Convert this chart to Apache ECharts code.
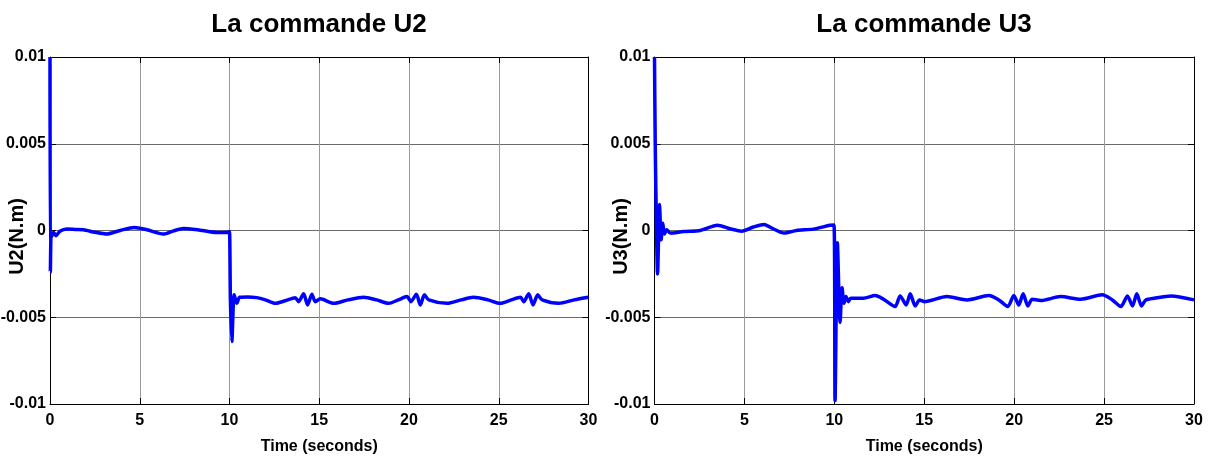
<!DOCTYPE html>
<html>
<head>
<meta charset="utf-8">
<title>La commande U2 / U3</title>
<script src="https://cdn.jsdelivr.net/npm/echarts@6/dist/echarts.min.js"></script>
<style>
  html, body { margin: 0; padding: 0; background: #ffffff; }
  #chart { width: 1212px; height: 461px; }
</style>
</head>
<body>
<div id="chart"></div>
<script>
// Control torques U2 and U3 (N.m) over 30 s of simulation
const xTicks = [0, 5, 10, 15, 20, 25, 30];
const yTicks = [-0.01, -0.005, 0, 0.005, 0.01];
const yTickLabels = ['-0.01', '-0.005', '0', '0.005', '0.01'];

const u2Time = [0, 0.02, 0.06, 0.09, 0.2, 0.33, 0.55, 0.93, 1.4, 1.86, 2.5, 3.16, 3.9, 4.7, 5.4, 6.32, 6.88, 7.43, 8.36, 9.29, 9.94,
  10.0, 10.05, 10.13, 10.26, 10.41, 10.56, 11.0, 11.52, 12.0, 12.55, 13.1, 13.66, 13.85, 14.13, 14.35, 14.59, 14.78, 15.06,
  15.8, 16.6, 17.47, 18.2, 18.87, 19.4, 19.89, 20.11, 20.41, 20.63, 20.86, 21.1, 22.12, 22.9, 23.6, 24.4, 25.09, 25.7,
  26.21, 26.39, 26.67, 26.91, 27.17, 27.42, 28.35, 29.2, 30.0];
const u2Value = [0.01, -0.0024, -0.0002, -0.00035, -0.0001, -0.0003, -0.00005, 0.00008, 0.00006, 0.00004, -0.0001, -0.0002, 0.0, 0.00018, 0.00004, -0.0002, -0.00002, 0.00012, 0.00002, -0.00012, -0.0001,
  -0.00006, -0.004, -0.0064, -0.0037, -0.0042, -0.00385, -0.00383, -0.00387, -0.004, -0.0042, -0.00405, -0.00387, -0.0041, -0.00365, -0.00429, -0.00367, -0.0041, -0.00394,
  -0.0042, -0.004, -0.00385, -0.004, -0.0042, -0.004, -0.00381, -0.0041, -0.00367, -0.00429, -0.00371, -0.004, -0.0042, -0.004, -0.00385, -0.004, -0.0042, -0.004,
  -0.00385, -0.0041, -0.00365, -0.00429, -0.00371, -0.004, -0.0042, -0.004, -0.00385];

const u3Time = [0, 0.04, 0.1, 0.17, 0.28, 0.37, 0.46, 0.55, 0.68, 0.87, 1.61, 2.54, 3.5, 4.2, 4.85, 5.5, 6.09, 6.6, 7.2, 7.9, 8.83, 9.76, 9.98,
  10.04, 10.17, 10.32, 10.43, 10.54, 10.65, 10.78, 10.91, 11.62, 12.27, 12.73, 13.38, 13.66, 14.0, 14.22, 14.5, 14.74, 15.0,
  16.26, 17.38, 18.59, 19.15, 19.65, 19.98, 20.26, 20.5, 20.76, 21.0, 21.47, 22.58, 23.7, 24.9, 25.46, 25.93, 26.3, 26.58,
  26.82, 27.08, 27.32, 27.79, 28.72, 30.0];
const u3Value = [0.01, 0.005, 0.0008, -0.0025, 0.0015, -0.00054, 0.00042, -0.0002, 0.00005, -0.00015, -0.00006, 0.0, 0.0003, 0.0001, -0.00004, 0.0002, 0.00035, 0.0001, -0.00015, 0.0, 0.00008, 0.0003, 0.00032,
  -0.0098, -0.0007, -0.0053, -0.0033, -0.0042, -0.0038, -0.0041, -0.0039, -0.0039, -0.00375, -0.00396, -0.00438, -0.00377, -0.00429, -0.00365, -0.00435, -0.004, -0.0041,
  -0.00381, -0.004, -0.00375, -0.004, -0.00438, -0.00375, -0.00429, -0.00365, -0.00435, -0.00396, -0.00404, -0.00381, -0.00396, -0.00371, -0.004, -0.00438, -0.00377, -0.00435,
  -0.00365, -0.00435, -0.004, -0.0039, -0.00377, -0.004];

const panels = [
  { title: 'La commande U2', yName: 'U2(N.m)', time: u2Time, value: u2Value, left: 50, width: 538.5, center: 319 },
  { title: 'La commande U3', yName: 'U3(N.m)', time: u3Time, value: u3Value, left: 654.5, width: 539.5, center: 924 }
];

const sans = "'Liberation Sans', Arial, sans-serif";
const plotTop = 57;
const plotHeight = 347;

const tickStyle = { show: true, inside: true, length: 6, lineStyle: { color: '#000', width: 1 } };
const lineStyle = { show: true, onZero: false, lineStyle: { color: '#000', width: 1 } };

const option = {
  backgroundColor: '#ffffff',
  animation: false,
  title: [],
  grid: [],
  xAxis: [],
  yAxis: [],
  series: []
};

panels.forEach(function (p, i) {
  option.title.push({
    text: p.title,
    left: p.center,
    top: 12,
    textAlign: 'center',
    padding: 0,
    textStyle: { fontFamily: sans, fontWeight: 'bold', fontSize: 26, color: '#000' }
  });
  option.grid.push({
    left: p.left, top: plotTop, width: p.width, height: plotHeight,
    containLabel: false, outerBoundsMode: 'none'
  });

  // bottom axis with labels and vertical grid lines
  option.xAxis.push({
    type: 'value', gridIndex: i, min: xTicks[0], max: xTicks[xTicks.length - 1], interval: 5,
    position: 'bottom',
    axisLine: lineStyle, axisTick: tickStyle,
    splitLine: { show: true, lineStyle: { color: '#9a9a9a', width: 1 } },
    axisLabel: { margin: 9, color: '#000', fontFamily: sans, fontWeight: 'bold', fontSize: 16 },
    name: 'Time (seconds)', nameLocation: 'middle', nameGap: 35, nameMoveOverlap: false,
    nameTextStyle: { color: '#000', fontFamily: sans, fontWeight: 'bold', fontSize: 16 }
  });
  // top box edge with inward ticks
  option.xAxis.push({
    type: 'value', gridIndex: i, min: xTicks[0], max: xTicks[xTicks.length - 1], interval: 5,
    position: 'top',
    axisLine: lineStyle, axisTick: tickStyle,
    splitLine: { show: false }, axisLabel: { show: false }
  });
  // left axis with labels and horizontal grid lines
  option.yAxis.push({
    type: 'value', gridIndex: i, min: yTicks[0], max: yTicks[yTicks.length - 1], interval: 0.005,
    position: 'left',
    axisLine: lineStyle, axisTick: tickStyle,
    splitLine: { show: true, lineStyle: { color: '#6a6a6a', width: 1 } },
    axisLabel: {
      margin: 4, color: '#000', fontFamily: sans, fontWeight: 'bold', fontSize: 16,
      formatter: function (v) {
        const k = yTicks.findIndex(function (t) { return Math.abs(t - v) < 1e-9; });
        return k >= 0 ? yTickLabels[k] : '';
      }
    },
    name: p.yName, nameLocation: 'middle', nameRotate: 90, nameGap: 23, nameMoveOverlap: false,
    nameTextStyle: { color: '#000', fontFamily: sans, fontWeight: 'bold', fontSize: 20, padding: [0, 12, 0, 0] }
  });
  // right box edge with inward ticks
  option.yAxis.push({
    type: 'value', gridIndex: i, min: yTicks[0], max: yTicks[yTicks.length - 1], interval: 0.005,
    position: 'right',
    axisLine: lineStyle, axisTick: tickStyle,
    splitLine: { show: false }, axisLabel: { show: false }
  });

  option.series.push({
    type: 'line',
    xAxisIndex: i * 2,
    yAxisIndex: i * 2,
    data: p.time.map(function (t, k) { return [t, p.value[k]]; }),
    showSymbol: false,
    smooth: 0.25,
    clip: false,
    lineStyle: { color: '#0000ff', width: 3.5 }
  });
});

const chart = echarts.init(document.getElementById('chart'), null, { renderer: 'canvas' });
chart.setOption(option);
</script>
</body>
</html>
